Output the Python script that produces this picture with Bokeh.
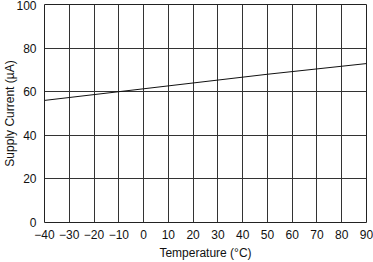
from bokeh.plotting import figure
from bokeh.embed import file_html
from bokeh.resources import INLINE
from bokeh.models import FixedTicker, Range1d

temps = [-40, -10, 50, 90]
current = [56.0, 60.0, 68.0, 72.9]
x_ticks = [-40, -30, -20, -10, 0, 10, 20, 30, 40, 50, 60, 70, 80, 90]
x_tick_labels = ["\u221240", "\u221230", "\u221220", "\u221210", "0", "10", "20", "30", "40", "50", "60", "70", "80", "90"]
y_ticks = [0, 20, 40, 60, 80, 100]
y_tick_labels = ["0", "20", "40", "60", "80", "100"]

FONT = "Liberation Sans"

p = figure(width=373, height=262, output_backend="svg", toolbar_location=None,
           x_range=Range1d(-40, 90), y_range=Range1d(0, 100),
           min_border_left=0, min_border_right=7, min_border_top=4, min_border_bottom=0)
p.background_fill_color = "white"
p.border_fill_color = "white"
p.outline_line_color = "#222222"
p.outline_line_width = 1

p.xaxis.ticker = FixedTicker(ticks=x_ticks)
p.yaxis.ticker = FixedTicker(ticks=y_ticks)
p.xaxis.major_label_overrides = {t: l for t, l in zip(x_ticks, x_tick_labels)}
p.yaxis.major_label_overrides = {t: l for t, l in zip(y_ticks, y_tick_labels)}

for ax in (p.xaxis[0], p.yaxis[0]):
    ax.axis_line_color = None
    ax.major_tick_line_color = None
    ax.minor_tick_line_color = None
    ax.major_tick_out = 0
    ax.major_tick_in = 0
    ax.minor_tick_out = 0
    ax.minor_tick_in = 0
    ax.major_label_text_font = FONT
    ax.major_label_text_font_size = "12px"
    ax.major_label_text_color = "#111111"
    ax.axis_label_text_font = FONT
    ax.axis_label_text_font_size = "12px"
    ax.axis_label_text_font_style = "normal"
    ax.axis_label_text_color = "#111111"

p.xaxis.axis_label = "Temperature (°C)"
p.yaxis.axis_label = "Supply Current (µA)"
p.xaxis.major_label_standoff = 7
p.yaxis.major_label_standoff = 8
p.xaxis.axis_label_standoff = 4
p.yaxis.axis_label_standoff = -4

p.xgrid.grid_line_color = "#333333"
p.ygrid.grid_line_color = "#333333"
p.xgrid.grid_line_width = 1
p.ygrid.grid_line_width = 1

p.line(temps, current, line_color="#111111", line_width=1)

open("out.html", "w").write(file_html(p, INLINE))
